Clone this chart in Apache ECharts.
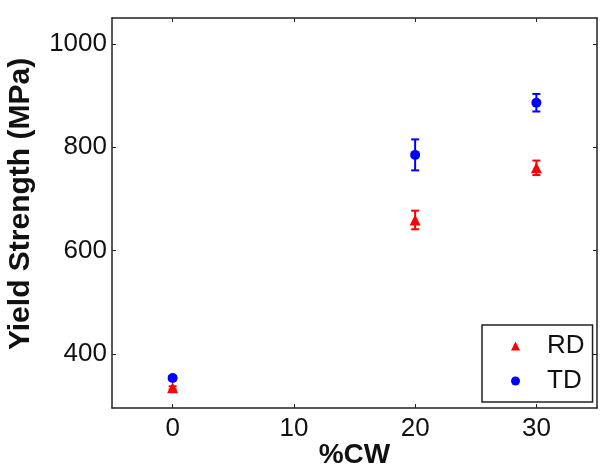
<!DOCTYPE html>
<html>
<head>
<meta charset="utf-8">
<script src="https://cdn.jsdelivr.net/npm/echarts@6/dist/echarts.min.js"></script>
<style>html,body{margin:0;padding:0;background:#fff}#c{width:600px;height:470px}</style>
</head>
<body>
<div id="c"></div>
<script>
var cw = [0, 20, 30];
var rdMean = [334, 659, 760];
var rdErr = [3, 18, 14];
var tdMean = [353, 785, 886];
var tdErr = [4, 30, 17];
var xTicks = [0, 10, 20, 30];
var yTicks = [400, 600, 800, 1000];

var FONT = 'Liberation Sans, Arial, Helvetica, sans-serif';
var chart = echarts.init(document.getElementById('c'), null, {renderer: 'canvas'});

function pts(means) { return cw.map(function (x, i) { return [x, means[i]]; }); }
function errData(means, errs) { return cw.map(function (x, i) { return [x, means[i] - errs[i], means[i] + errs[i]]; }); }
function errSeries(means, errs, color) {
  return {
    type: 'custom', xAxisIndex: 0, yAxisIndex: 0, silent: true, z: 2,
    data: errData(means, errs),
    renderItem: function (params, api) {
      var lo = api.coord([api.value(0), api.value(1)]);
      var hi = api.coord([api.value(0), api.value(2)]);
      var hw = 4;
      var st = {stroke: color, lineWidth: 2};
      return {type: 'group', children: [
        {type: 'line', shape: {x1: lo[0], y1: lo[1], x2: hi[0], y2: hi[1]}, style: st},
        {type: 'line', shape: {x1: lo[0] - hw, y1: lo[1], x2: lo[0] + hw, y2: lo[1]}, style: st},
        {type: 'line', shape: {x1: hi[0] - hw, y1: hi[1], x2: hi[0] + hw, y2: hi[1]}, style: st}
      ]};
    }
  };
}
function plain(v) { return String(v); }

var axisLineStyle = {show: true, onZero: false, lineStyle: {color: '#222', width: 1.5}};
var option = {
  animation: false,
  backgroundColor: '#fff',
  grid: {left: 112, right: 3, top: 18, bottom: 62, containLabel: false, outerBoundsMode: 'none'},
  legend: {
    orient: 'vertical',
    left: 482, top: 325,
    width: 109,
    padding: [8, 8, 8, 29],
    itemGap: 9,
    itemWidth: 9, itemHeight: 9,
    borderColor: '#222', borderWidth: 1.5,
    backgroundColor: '#fff',
    data: ['RD', 'TD'],
    textStyle: {fontFamily: FONT, fontSize: 26, color: '#111', padding: [0, 0, 0, 22]}
  },
  xAxis: [{
    type: 'value', min: -5, max: 35, position: 'bottom',
    name: '%CW', nameLocation: 'middle', nameGap: 33, nameMoveOverlap: false,
    nameTextStyle: {fontFamily: FONT, fontSize: 28, fontWeight: 'bold', color: '#111'},
    axisLine: axisLineStyle,
    axisTick: {show: true, inside: true, length: 4, customValues: xTicks, lineStyle: {color: '#222', width: 1}},
    axisLabel: {show: true, customValues: xTicks, formatter: plain, margin: 8, fontFamily: FONT, fontSize: 26, color: '#111'},
    splitLine: {show: false}
  }, {
    type: 'value', min: -5, max: 35, position: 'top',
    axisLine: axisLineStyle,
    axisTick: {show: true, inside: true, length: 4, customValues: xTicks, lineStyle: {color: '#222', width: 1}},
    axisLabel: {show: false}, splitLine: {show: false}
  }],
  yAxis: [{
    type: 'value', min: 295, max: 1050, position: 'left',
    name: 'Yield Strength (MPa)', nameLocation: 'middle', nameGap: 76, nameMoveOverlap: false,
    nameTextStyle: {fontFamily: FONT, fontSize: 30, fontWeight: 'bold', color: '#111', padding: [0, 0, 0, 18]},
    axisLine: axisLineStyle,
    axisTick: {show: true, inside: true, length: 4, customValues: yTicks, lineStyle: {color: '#222', width: 1}},
    axisLabel: {show: true, customValues: yTicks, formatter: plain, margin: 5, fontFamily: FONT, fontSize: 26, color: '#111'},
    splitLine: {show: false}
  }, {
    type: 'value', min: 295, max: 1050, position: 'right',
    axisLine: axisLineStyle,
    axisTick: {show: true, inside: true, length: 4, customValues: yTicks, lineStyle: {color: '#222', width: 1}},
    axisLabel: {show: false}, splitLine: {show: false}
  }],
  series: [
    errSeries(rdMean, rdErr, '#ff0000'),
    errSeries(tdMean, tdErr, '#0000ff'),
    {name: 'RD', type: 'scatter', symbol: 'triangle', symbolSize: 11, z: 3,
     itemStyle: {color: '#ff0000', opacity: 1}, data: pts(rdMean)},
    {name: 'TD', type: 'scatter', symbol: 'circle', symbolSize: 10, z: 3,
     itemStyle: {color: '#0000ff', opacity: 1}, data: pts(tdMean)}
  ]
};
chart.setOption(option);
</script>
</body>
</html>
